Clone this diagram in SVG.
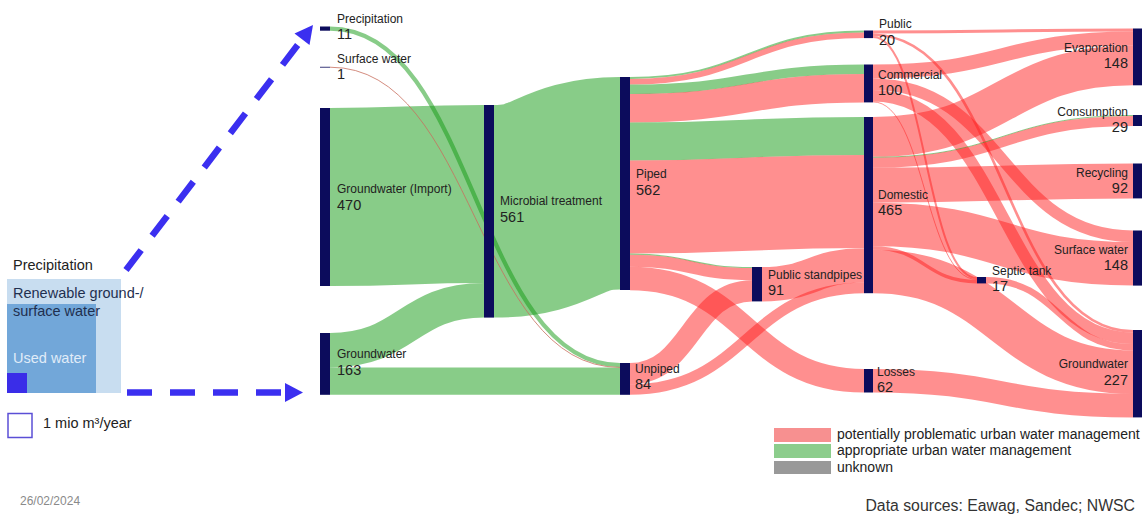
<svg xmlns="http://www.w3.org/2000/svg" width="1142" height="514" viewBox="0 0 1142 514">
<style>
text{font-family:"Liberation Sans",Arial,sans-serif;fill:#222}
.nm{font-size:12px}
.nv{font-size:14.5px}
.r{text-anchor:end}
.node{fill:#0c0c5c}
.p{fill:none;stroke:#ff2020;stroke-opacity:.5}
.g{fill:none;stroke:#129a12;stroke-opacity:.5}
.dash{stroke:#3b2ff0;stroke-width:6.5;stroke-dasharray:25 18;fill:none}
.ah{fill:#3b2ff0}
.lt{font-size:14.5px}
</style>
<rect width="1142" height="514" fill="#fff"/>

<g id="overview">
<text class="lt" x="13" y="270">Precipitation</text>
<rect x="7" y="279" width="114" height="114" fill="#c8ddf0"/>
<rect x="7" y="304" width="89" height="89" fill="#72a7d9"/>
<text class="lt" x="13" y="298" style="fill:#1f2f4f">Renewable ground-/</text>
<text class="lt" x="13" y="316" style="fill:#1f2f4f">surface water</text>
<text class="lt" x="13" y="363" style="fill:#e0ecf8">Used water</text>
<rect x="7" y="373" width="20" height="20" fill="#3a2de8"/>
<rect x="8" y="413.5" width="24" height="24" fill="none" stroke="#5b4fd6" stroke-width="1.5"/>
<text class="lt" x="43" y="428">1 mio m³/year</text>
<line class="dash" x1="127" y1="392.5" x2="285" y2="392.5"/>
<polygon class="ah" points="285,383 303,392.5 285,402"/>
<line class="dash" x1="126" y1="270" x2="302" y2="39.3"/>
<polygon class="ah" points="313,25 309.5,45.1 294.5,33.5"/>
</g>

<g id="connectors">
<path class="g" stroke-width="178" d="M330 197 C407 197 407 194 484 194"/>
<path class="g" stroke-width="34.5" d="M330 350.25 C407 350.25 407 300.25 484 300.25"/>
<path class="g" stroke-width="27.3" d="M330 381.15 C475 381.15 475 381.2 620 381.2"/>
<path class="g" stroke-width="212.6" d="M494 211.3 C557 211.3 557 183.3 620 183.3"/>
<path class="g" stroke-width="4.2" d="M330 28.6 C475 28.6 475 365.1 620 365.1"/>
<path d="M330 67.2 C475 67.2 475 367.4 620 367.4" fill="none" stroke="#c86e5e" stroke-width="0.8"/>

<path class="g" stroke-width="1.9" d="M630 77.95 C747 77.95 747 31.45 864 31.45"/>
<path class="p" stroke-width="5.7" d="M630 81.75 C747 81.75 747 35.25 864 35.25"/>
<path class="g" stroke-width="9.5" d="M630 89.35 C747 89.35 747 69.25 864 69.25"/>
<path class="p" stroke-width="28.4" d="M630 108.3 C747 108.3 747 88.2 864 88.2"/>
<path class="g" stroke-width="37.9" d="M630 141.45 C747 141.45 747 135.95 864 135.95"/>
<path class="p" stroke-width="93.2" d="M630 207 C747 207 747 201.5 864 201.5"/>
<path class="g" stroke-width="1.1" d="M630 254.15 C691 254.15 691 267.55 752 267.55"/>
<path class="p" stroke-width="12.1" d="M630 260.75 C691 260.75 691 274.15 752 274.15"/>
<path class="p" stroke-width="23.5" d="M630 278.55 C747 278.55 747 380.75 864 380.75"/>
<path class="p" stroke-width="21.2" d="M630 373.6 C691 373.6 691 290.8 752 290.8"/>
<path class="p" stroke-width="10.6" d="M630 389.5 C747 389.5 747 287.9 864 287.9"/>
<path class="p" stroke-width="34.4" d="M762 284.2 C813 284.2 813 265.35 864 265.35"/>

<path class="p" stroke-width="3" d="M873 32 C1003 32 1003 30 1133 30"/>
<path class="p" stroke-width="2.6" d="M873 34.8 C1003 34.8 1003 331.3 1133 331.3"/>
<path class="p" stroke-width="2" d="M873 37.1 C925 37.1 925 278 977 278"/>
<path class="p" stroke-width="14" d="M873 71.5 C1003 71.5 1003 38.5 1133 38.5"/>
<path class="p" stroke-width="11.5" d="M873 84.25 C1003 84.25 1003 236.25 1133 236.25"/>
<path class="p" stroke-width="11.4" d="M873 95.7 C1003 95.7 1003 338.3 1133 338.3"/>
<path class="p" stroke-width="1" d="M873 101.9 C925 101.9 925 279.5 977 279.5"/>
<path class="p" stroke-width="39.8" d="M873 136.9 C1003 136.9 1003 65.4 1133 65.4"/>
<path class="g" stroke-width="1" d="M873 157.3 C1003 157.3 1003 115.5 1133 115.5"/>
<path class="p" stroke-width="10" d="M873 162.8 C1003 162.8 1003 121 1133 121"/>
<path class="p" stroke-width="34.9" d="M873 185.25 C1003 185.25 1003 180.95 1133 180.95"/>
<path class="p" stroke-width="43.6" d="M873 224.5 C1003 224.5 1003 263.8 1133 263.8"/>
<path class="p" stroke-width="3.4" d="M873 248 C925 248 925 281.7 977 281.7"/>
<path class="p" stroke-width="43.5" d="M873 271.45 C1003 271.45 1003 372.15 1133 372.15"/>
<path class="p" stroke-width="6.4" d="M986 280.2 C1059.5 280.2 1059.5 347.2 1133 347.2"/>
<path class="p" stroke-width="23.5" d="M873 380.75 C1003 380.75 1003 405.65 1133 405.65"/>
</g>

<g id="node-precipitation"><rect class="node" x="320" y="26.5" width="10" height="4.2"/><text class="nm" x="337" y="23">Precipitation</text><text class="nv" x="337" y="39">11</text></g>
<g id="node-surface-water-src"><rect class="node" x="320" y="66.8" width="10" height="0.8"/><text class="nm" x="337" y="63">Surface water</text><text class="nv" x="337" y="79">1</text></g>
<g id="node-groundwater-import"><rect class="node" x="320" y="108" width="10" height="178"/><text class="nm" x="337" y="193">Groundwater (Import)</text><text class="nv" x="337" y="210">470</text></g>
<g id="node-groundwater-src"><rect class="node" x="320" y="333" width="10" height="61.8"/><text class="nm" x="337" y="358">Groundwater</text><text class="nv" x="337" y="375">163</text></g>
<g id="node-microbial"><rect class="node" x="484" y="105" width="10" height="212.6"/><text class="nm" x="500" y="205">Microbial treatment</text><text class="nv" x="500" y="222">561</text></g>
<g id="node-piped"><rect class="node" x="620" y="77" width="10" height="213"/><text class="nm" x="636" y="178">Piped</text><text class="nv" x="636" y="195">562</text></g>
<g id="node-unpiped"><rect class="node" x="620" y="363" width="10" height="31.8"/><text class="nm" x="635" y="373">Unpiped</text><text class="nv" x="635" y="389">84</text></g>
<g id="node-standpipes"><rect class="node" x="752" y="267" width="10" height="34.4"/><text class="nm" x="768" y="279">Public standpipes</text><text class="nv" x="768" y="295">91</text></g>
<g id="node-public"><rect class="node" x="864" y="30.5" width="9" height="7.6"/><text class="nm" x="879" y="28">Public</text><text class="nv" x="879" y="45">20</text></g>
<g id="node-commercial"><rect class="node" x="864" y="64.5" width="9" height="37.9"/><text class="nm" x="878" y="79">Commercial</text><text class="nv" x="878" y="95">100</text></g>
<g id="node-domestic"><rect class="node" x="864" y="117" width="9" height="176.2"/><text class="nm" x="878" y="199">Domestic</text><text class="nv" x="878" y="215">465</text></g>
<g id="node-losses"><rect class="node" x="864" y="369" width="9" height="23.5"/><text class="nm" x="877" y="376">Losses</text><text class="nv" x="877" y="392">62</text></g>
<g id="node-septic"><rect class="node" x="977" y="277" width="9" height="6.4"/><text class="nm" x="992" y="275">Septic tank</text><text class="nv" x="992" y="291">17</text></g>
<g id="node-evaporation"><rect class="node" x="1133" y="28.5" width="9" height="56.8"/><text class="nm r" x="1128" y="52">Evaporation</text><text class="nv r" x="1128" y="68">148</text></g>
<g id="node-consumption"><rect class="node" x="1133" y="115" width="9" height="11"/><text class="nm r" x="1128" y="116">Consumption</text><text class="nv r" x="1128" y="132">29</text></g>
<g id="node-recycling"><rect class="node" x="1133" y="163.5" width="9" height="34.9"/><text class="nm r" x="1128" y="177">Recycling</text><text class="nv r" x="1128" y="193">92</text></g>
<g id="node-surface-water"><rect class="node" x="1133" y="230.5" width="9" height="55.1"/><text class="nm r" x="1128" y="254">Surface water</text><text class="nv r" x="1128" y="270">148</text></g>
<g id="node-groundwater"><rect class="node" x="1133" y="330" width="9" height="87.4"/><text class="nm r" x="1128" y="368">Groundwater</text><text class="nv r" x="1128" y="385">227</text></g>

<g id="legend">
<rect x="774" y="428" width="57" height="14" fill="#f79090"/>
<rect x="774" y="444" width="57" height="14" fill="#8ccd8c"/>
<rect x="774" y="461" width="57" height="13" fill="#999"/>
<text x="837" y="439" style="font-size:14px">potentially problematic urban water management</text>
<text x="837" y="455" style="font-size:14px">appropriate urban water management</text>
<text x="837" y="472" style="font-size:14px">unknown</text>
</g>
<text x="20" y="505" style="font-size:12px;fill:#8a8a8a">26/02/2024</text>
<text x="1135" y="511" style="font-size:15.8px;text-anchor:end;fill:#333">Data sources: Eawag, Sandec; NWSC</text>
</svg>
